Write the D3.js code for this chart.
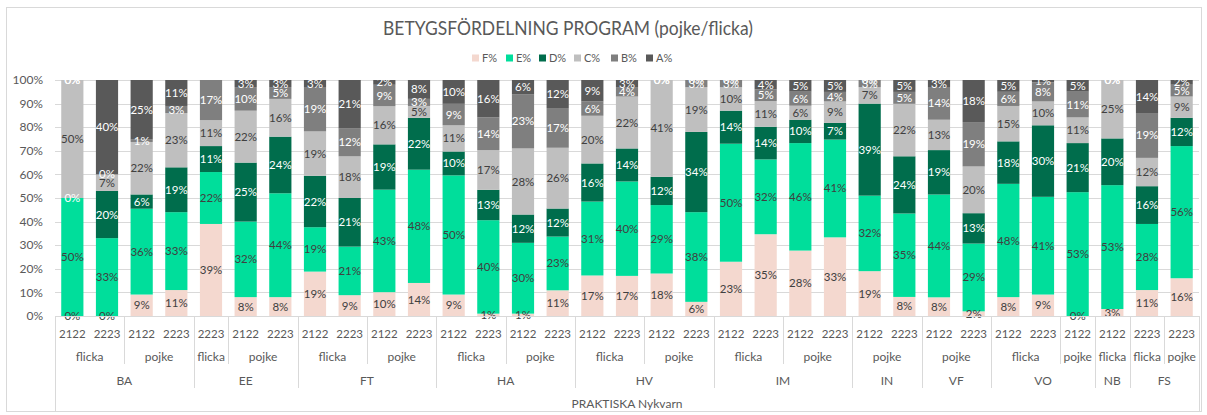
<!DOCTYPE html>
<html>
<head>
<meta charset="utf-8">
<script src="https://cdn.jsdelivr.net/npm/d3@7"></script>
<style>
  html, body { margin: 0; padding: 0; background: #fff; }
  svg { display: block; font-family: Lato, "Open Sans", sans-serif; }
</style>
</head>
<body>
<svg id="chart" width="1207" height="415"></svg>
<script>
// ---------- data ----------
const programs = ["BA","BA","BA","BA","EE","EE","EE","FT","FT","FT","FT","HA","HA","HA","HA","HV","HV","HV","HV","IM","IM","IM","IM","IN","IN","VF","VF","VO","VO","VO","NB","FS","FS"];
const genders  = ["flicka","flicka","pojke","pojke","flicka","pojke","pojke","flicka","flicka","pojke","pojke","flicka","flicka","pojke","pojke","flicka","flicka","pojke","pojke","flicka","flicka","pojke","pojke","pojke","pojke","pojke","pojke","flicka","flicka","pojke","flicka","flicka","pojke"];
const years    = ["2122","2223","2122","2223","2223","2122","2223","2122","2223","2122","2223","2122","2223","2122","2223","2122","2223","2122","2223","2122","2223","2122","2223","2122","2223","2122","2223","2122","2223","2122","2122","2223","2223"];
const outerLabel = "PRAKTISKA Nykvarn";

const seriesNames = ["F%","E%","D%","C%","B%","A%"];
const F = [0, 0, 9,11,39, 8, 8,19, 9,10,14, 9, 1, 1,11,17,17,18, 6,23,35,28,33,19, 8, 8, 2, 8, 9, 0, 3,11,16];
const E = [50,33,36,33,22,32,44,19,21,43,48,50,40,30,23,31,40,29,38,50,32,46,41,32,35,44,29,48,41,53,53,28,56];
const D = [0,20, 6,19,11,25,24,22,21,19,22,10,13,12,12,16,14,12,34,14,14,10, 7,39,24,19,13,18,30,21,20,16,12];
const C = [50, 7,22,23,11,22,16,19,18,16, 5,11,17,28,26,20,22,41,19,10,11, 6, 9, 7,22,13,20,15,10,11,25,12, 9];
const B = [0, 0, 1, 3,17,10, 5,19,12, 9, 3, 9,14,23,17, 6, 4, 0, 3, 3, 5, 6, 4, 3, 5,14,19, 6, 8,11, 0,19, 5];
const A = [0,40,25,11,null,3, 3, 3,21, 2, 8,10,16, 6,12, 9, 3, 0, 0, 0, 4, 5, 5, 0, 5, 3,18, 5, 1, 5, 0,14, 2];
const yTicks = [0,0.1,0.2,0.3,0.4,0.5,0.6,0.7,0.8,0.9,1];
const title = "BETYGSFÖRDELNING PROGRAM (pojke/flicka)";

const colors = ["#F4D8CF","#00DE9B","#006D4C","#BFBFBF","#7F7F7F","#595959"];
const labelColors = ["#404040","#404040","#ffffff","#404040","#ffffff","#ffffff"];

// ---------- build ----------
const seriesValues = [F,E,D,C,B,A];
const n = programs.length;
const rows = d3.range(n).map(i => {
  const r = {idx: String(i)};
  seriesNames.forEach((s, k) => r[s] = seriesValues[k][i]);
  return r;
});

const svg = d3.select("#chart");
const plot = {left: 55, right: 1199, top: 80, bottom: 316};

// chart border
svg.append("rect").attr("x", 6.5).attr("y", 7.5).attr("width", 1195).attr("height", 404)
  .attr("fill", "none").attr("stroke", "#d9d9d9");

const x = d3.scaleBand().domain(rows.map(r => r.idx))
  .range([plot.left, plot.right]).paddingInner(0.36).paddingOuter(0.18);
const y = d3.scaleLinear().domain([0, 1]).range([plot.bottom, plot.top]);

// gridlines + y labels
svg.append("g").selectAll("line").data(yTicks).join("line")
  .attr("x1", plot.left).attr("x2", plot.right)
  .attr("y1", d => Math.round(y(d)) + 0.5).attr("y2", d => Math.round(y(d)) + 0.5)
  .attr("stroke", "#d9d9d9").attr("stroke-width", 1);
svg.append("g").selectAll("text").data(yTicks).join("text")
  .attr("x", 43).attr("y", d => y(d)).attr("dy", "0.35em")
  .attr("text-anchor", "end").attr("font-size", 12).attr("fill", "#595959")
  .text(d3.format(".0%"));

// stacks (normalized to 100% like the original 100% stacked chart)
const stack = d3.stack().keys(seriesNames)
  .value((d, k) => d[k] == null ? 0 : d[k])
  .offset(d3.stackOffsetExpand);
const stacked = stack(rows);

const barsG = svg.append("g");
stacked.forEach((layer, k) => {
  barsG.append("g").attr("fill", colors[k]).selectAll("rect").data(layer).join("rect")
    .attr("x", d => x(d.data.idx)).attr("width", x.bandwidth())
    .attr("y", d => y(d[1])).attr("height", d => Math.max(0, y(d[0]) - y(d[1])));
});

// data labels
const labG = svg.append("g").attr("font-size", 11.5).attr("text-anchor", "middle");
stacked.forEach((layer, k) => {
  labG.append("g").attr("fill", labelColors[k]).selectAll("text")
    .data(layer.filter(d => d.data[seriesNames[k]] != null)).join("text")
    .attr("x", d => x(d.data.idx) + x.bandwidth() / 2)
    .attr("y", d => y((d[0] + d[1]) / 2))
    .attr("dy", "0.35em")
    .text(d => d.data[seriesNames[k]] + "%");
});

// x axis (multi-level)
const axG = svg.append("g");
const step = x.step();
const bx = i => plot.left + step * i;
axG.append("line").attr("x1", plot.left).attr("x2", plot.right)
  .attr("y1", plot.bottom + 0.5).attr("y2", plot.bottom + 0.5).attr("stroke", "#d9d9d9");

// year labels
axG.append("g").selectAll("text").data(rows).join("text")
  .attr("x", d => x(d.idx) + x.bandwidth() / 2).attr("y", 334).attr("dy", "0.35em")
  .attr("text-anchor", "middle").attr("font-size", 11.5).attr("fill", "#595959")
  .text((d, i) => years[i]);

// groups
function runs(keyFn) {
  const out = [];
  for (let i = 0; i < n; i++) {
    const key = keyFn(i);
    if (out.length && out[out.length - 1].key === key) out[out.length - 1].end = i + 1;
    else out.push({key, start: i, end: i + 1});
  }
  return out;
}
const gRuns = runs(i => programs[i] + "|" + genders[i]);
const pRuns = runs(i => programs[i]);

axG.append("g").selectAll("text").data(gRuns).join("text")
  .attr("x", d => (bx(d.start) + bx(d.end)) / 2).attr("y", 357).attr("dy", "0.35em")
  .attr("text-anchor", "middle").attr("font-size", 12).attr("fill", "#595959")
  .text(d => d.key.split("|")[1]);
axG.append("g").selectAll("text").data(pRuns).join("text")
  .attr("x", d => (bx(d.start) + bx(d.end)) / 2).attr("y", 381).attr("dy", "0.35em")
  .attr("text-anchor", "middle").attr("font-size", 12).attr("fill", "#595959")
  .text(d => d.key);
axG.append("text").attr("x", (plot.left + plot.right) / 2).attr("y", 404).attr("dy", "0.35em")
  .attr("text-anchor", "middle").attr("font-size", 12).attr("fill", "#595959")
  .text(outerLabel);

// separators
const pBounds = new Set(pRuns.map(r => r.start));
const seps = [];
gRuns.forEach(r => { if (r.start > 0 && !pBounds.has(r.start)) seps.push({i: r.start, y2: 364}); });
pRuns.forEach(r => { if (r.start > 0) seps.push({i: r.start, y2: 388}); });
seps.push({i: 0, y2: 411}); seps.push({i: n, y2: 411});
axG.append("g").selectAll("line").data(seps).join("line")
  .attr("x1", d => Math.round(bx(d.i)) + 0.5).attr("x2", d => Math.round(bx(d.i)) + 0.5)
  .attr("y1", plot.bottom).attr("y2", d => d.y2)
  .attr("stroke", "#d9d9d9");

// title
svg.append("text").attr("x", 568).attr("y", 35).attr("text-anchor", "middle")
  .attr("font-size", 19).attr("fill", "#595959").attr("textLength", 370).attr("lengthAdjust", "spacingAndGlyphs")
  .text(title);

// legend
const legX = [472, 506, 539, 574, 611, 646];
const leg = svg.append("g").selectAll("g").data(seriesNames).join("g")
  .attr("transform", (d, i) => `translate(${legX[i]},58)`);
leg.append("rect").attr("x", 0).attr("y", -3.5).attr("width", 7).attr("height", 7)
  .attr("fill", (d, i) => colors[i]);
leg.append("text").attr("x", 10).attr("y", 0).attr("dy", "0.35em")
  .attr("font-size", 11).attr("fill", "#595959").text(d => d);
</script>
</body>
</html>
